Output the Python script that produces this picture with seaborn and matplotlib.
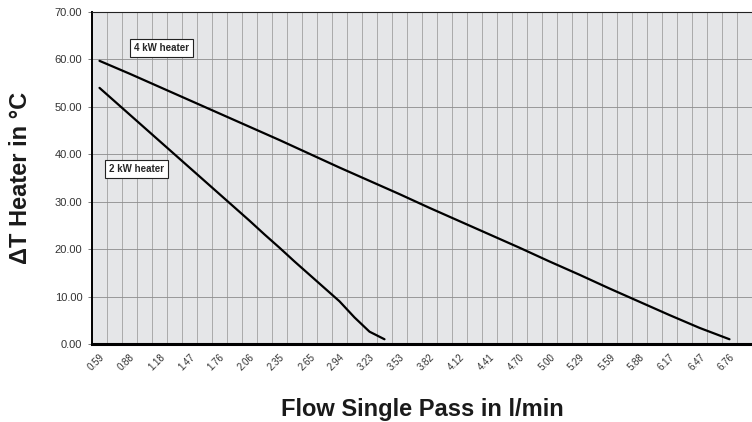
import numpy as np
import pandas as pd
import matplotlib
matplotlib.use("Agg")
import matplotlib.pyplot as plt
import seaborn as sns

# flow categories (l/min) shown on the x axis
tick_labels = ["0.59", "0.88", "1.18", "1.47", "1.76", "2.06", "2.35", "2.65",
               "2.94", "3.23", "3.53", "3.82", "4.12", "4.41", "4.70", "5.00",
               "5.29", "5.59", "5.88", "6.17", "6.47", "6.76"]

# 4 kW heater, read at the labelled flows
flow_4kw = [0.588, 0.882, 1.176, 1.470, 1.764, 2.058, 2.352, 2.646, 2.940, 3.234,
            3.528, 3.822, 4.116, 4.410, 4.704, 4.998, 5.292, 5.586, 5.880, 6.174,
            6.468, 6.762]
dt_4kw = [59.7, 57.0, 54.2, 51.4, 48.6, 45.8, 43.0, 40.1, 37.2, 34.4,
          31.6, 28.7, 25.9, 23.1, 20.3, 17.4, 14.6, 11.7, 8.9, 6.1,
          3.4, 1.0]

# 2 kW heater
flow_2kw = [0.588, 0.735, 0.882, 1.029, 1.176, 1.323, 1.470, 1.617, 1.764, 1.911,
            2.058, 2.205, 2.352, 2.499, 2.646, 2.793, 2.940, 3.087, 3.234, 3.381]
dt_2kw = [54.0, 51.2, 48.4, 45.6, 42.8, 40.0, 37.2, 34.4, 31.6, 28.8,
          26.0, 23.1, 20.3, 17.4, 14.6, 11.8, 9.0, 5.6, 2.6, 1.0]

df = pd.concat([
    pd.DataFrame({"flow": flow_4kw, "dt": dt_4kw, "heater": "4 kW heater"}),
    pd.DataFrame({"flow": flow_2kw, "dt": dt_2kw, "heater": "2 kW heater"}),
])

sns.set_style("white")
plt.rcParams["font.family"] = ["Liberation Sans", "DejaVu Sans"]

fig = plt.figure(figsize=(7.52, 4.22), dpi=100)
ax = fig.add_axes([92 / 752, 78 / 422, 660 / 752, 332 / 422])
ax.set_facecolor("#e5e6e8")

sns.lineplot(data=df, x="flow", y="dt", units="heater", estimator=None,
             color="black", linewidth=1.6, ax=ax, legend=False)

step = 0.147
ax.set_xlim(0.588 - step / 2, 6.909 + step / 2)
ax.set_ylim(0, 70)

# category boundaries -> grid + small ticks
bounds = np.arange(0.588 - step / 2, 6.99, step)
ax.set_xticks(bounds, minor=True)
ax.set_xticks([float(t) for t in tick_labels])
ax.set_xticklabels(tick_labels, rotation=45, ha="right", va="top",
                   rotation_mode="anchor", fontsize=7, color="#333333")
ax.tick_params(axis="x", which="major", length=0, pad=6)
ax.tick_params(axis="x", which="minor", length=3, color="#666666", width=0.6)
ax.grid(True, which="minor", axis="x", color="#a0a0a0", linewidth=0.6)

ax.set_yticks(np.arange(0, 71, 10))
ax.set_yticklabels([f"{v:.2f}" for v in range(0, 71, 10)], fontsize=8, color="#333333")
ax.tick_params(axis="y", length=3, color="#666666", width=0.6, pad=4, left=True)
ax.grid(True, which="major", axis="y", color="#8c8c8c", linewidth=0.6)
ax.set_axisbelow(True)

ax.spines["right"].set_visible(False)
ax.spines["top"].set_color("#222222")
ax.spines["top"].set_linewidth(0.8)
ax.spines["left"].set_color("black")
ax.spines["left"].set_linewidth(1.4)
ax.spines["bottom"].set_color("black")
ax.spines["bottom"].set_linewidth(2.2)

box = dict(boxstyle="square,pad=0.4", facecolor="white", edgecolor="#222222", linewidth=0.8)
ax.text(1.198, 62.4, "4 kW heater", fontsize=7, fontweight="bold",
        ha="center", va="center", bbox=box)
ax.text(0.949, 36.9, "2 kW heater", fontsize=7, fontweight="bold",
        ha="center", va="center", bbox=box)

ax.set_xlabel("Flow Single Pass in l/min", fontsize=17, fontweight="bold",
              color="#1a1a1a", labelpad=18)
ax.set_ylabel("\u0394T Heater in \u00b0C", fontsize=17, fontweight="bold",
              color="#1a1a1a", labelpad=16)

fig.savefig("out.png", dpi=100)
